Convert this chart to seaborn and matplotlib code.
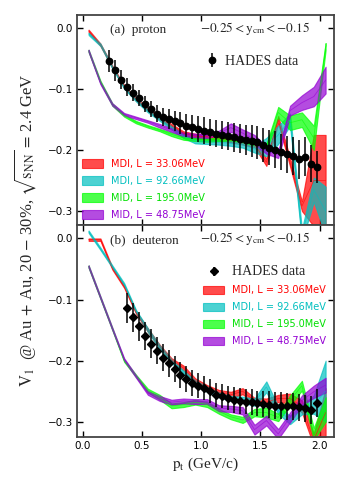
import numpy as np
import pandas as pd
import seaborn as sns
import matplotlib
matplotlib.use("Agg")
import matplotlib.pyplot as plt

# ---------------- data ----------------
model_pt = [0.05, 0.15, 0.25, 0.35, 0.45, 0.55, 0.65, 0.75, 0.85, 0.95, 1.05,
            1.15, 1.25, 1.35, 1.45, 1.55, 1.65, 1.75, 1.85, 1.95, 2.05]

model_labels = ["MDI, L = 33.06MeV", "MDI, L = 92.66MeV",
                "MID, L = 195.0MeV", "MID, L = 48.75MeV"]
model_colors = ["#ff0000", "#00bfbf", "#00ff00", "#9400d3"]
text_colors = ["#ff0000", "#00bfbf", "#00e000", "#9400d3"]

# proton bands (center, half width)
p_red_c = [-0.004, -0.027, -0.063, -0.095, -0.117, -0.133, -0.147, -0.160, -0.172, -0.177, -0.178,
           -0.180, -0.183, -0.186, -0.190, -0.220, -0.150, -0.220, -0.292, -0.250, -0.250]
p_red_h = [0.002, 0.002, 0.002, 0.002, 0.002, 0.003, 0.003, 0.003, 0.003, 0.004, 0.004,
           0.004, 0.004, 0.005, 0.005, 0.006, 0.006, 0.007, 0.008, 0.075, 0.075]
p_cyan_c = [-0.009, -0.027, -0.064, -0.097, -0.118, -0.135, -0.149, -0.163, -0.177, -0.185, -0.186,
            -0.187, -0.189, -0.191, -0.198, -0.195, -0.175, -0.150, -0.340, -0.265, -0.300]
p_cyan_h = [0.002, 0.002, 0.002, 0.002, 0.002, 0.003, 0.003, 0.003, 0.003, 0.004, 0.004,
            0.004, 0.004, 0.005, 0.006, 0.015, 0.015, 0.010, 0.010, 0.020, 0.040]
p_green_c = [-0.037, -0.088, -0.125, -0.143, -0.154, -0.161, -0.167, -0.174, -0.180, -0.182, -0.183,
             -0.182, -0.181, -0.183, -0.188, -0.195, -0.138, -0.155, -0.150, -0.180, -0.030]
p_green_h = [0.002, 0.002, 0.002, 0.002, 0.002, 0.002, 0.002, 0.003, 0.003, 0.003, 0.003,
             0.003, 0.003, 0.004, 0.004, 0.005, 0.009, 0.012, 0.012, 0.020, 0.006]
p_purple_c = [-0.037, -0.090, -0.125, -0.141, -0.147, -0.153, -0.160, -0.167, -0.174, -0.176, -0.176,
              -0.172, -0.163, -0.172, -0.183, -0.200, -0.207, -0.135, -0.122, -0.112, -0.085]
p_purple_h = [0.002, 0.002, 0.002, 0.002, 0.002, 0.002, 0.003, 0.003, 0.003, 0.003, 0.004,
              0.004, 0.007, 0.006, 0.008, 0.006, 0.006, 0.008, 0.012, 0.016, 0.022]

# deuteron bands (center, half width)
d_red_c = [-0.002, -0.002, -0.049, -0.079, -0.121, -0.150, -0.177, -0.199, -0.212, -0.233, -0.244,
           -0.252, -0.256, -0.250, -0.266, -0.268, -0.262, -0.262, -0.275, -0.330, -0.285]
d_red_h = [0.002, 0.002, 0.002, 0.002, 0.002, 0.003, 0.003, 0.003, 0.004, 0.004, 0.004,
           0.004, 0.005, 0.005, 0.005, 0.006, 0.006, 0.008, 0.010, 0.010, 0.040]
d_cyan_c = [0.011, -0.017, -0.046, -0.075, -0.119, -0.150, -0.178, -0.201, -0.219, -0.236, -0.247,
            -0.256, -0.262, -0.264, -0.268, -0.243, -0.281, -0.297, -0.280, -0.272, -0.250]
d_cyan_h = [0.002, 0.002, 0.002, 0.002, 0.002, 0.003, 0.003, 0.003, 0.003, 0.004, 0.004,
            0.004, 0.004, 0.005, 0.006, 0.009, 0.006, 0.007, 0.008, 0.015, 0.050]
d_green_c = [-0.046, -0.097, -0.148, -0.200, -0.225, -0.249, -0.260, -0.274, -0.272, -0.268, -0.272,
             -0.283, -0.292, -0.297, -0.285, -0.285, -0.293, -0.265, -0.241, -0.320, -0.280]
d_green_h = [0.002, 0.002, 0.002, 0.002, 0.002, 0.003, 0.004, 0.004, 0.004, 0.004, 0.004,
             0.004, 0.004, 0.005, 0.006, 0.008, 0.006, 0.008, 0.008, 0.010, 0.020]
d_purple_c = [-0.046, -0.097, -0.148, -0.198, -0.226, -0.253, -0.262, -0.268, -0.266, -0.267, -0.267,
              -0.278, -0.279, -0.282, -0.313, -0.298, -0.320, -0.293, -0.265, -0.251, -0.240]
d_purple_h = [0.002, 0.002, 0.002, 0.002, 0.002, 0.003, 0.004, 0.004, 0.004, 0.004, 0.004,
              0.005, 0.005, 0.006, 0.008, 0.008, 0.008, 0.008, 0.008, 0.010, 0.012]

# HADES data
p_pt = [0.225, 0.275, 0.325, 0.375, 0.425, 0.475, 0.525, 0.575, 0.625, 0.675, 0.725, 0.775,
        0.825, 0.875, 0.925, 0.975, 1.025, 1.075, 1.125, 1.175, 1.225, 1.275, 1.325, 1.375,
        1.425, 1.475, 1.525, 1.575, 1.625, 1.675, 1.725, 1.775, 1.825, 1.875, 1.925, 1.975]
p_v1 = [-0.054, -0.069, -0.084, -0.096, -0.106, -0.115, -0.124, -0.132, -0.140, -0.145, -0.149, -0.152,
        -0.156, -0.160, -0.162, -0.165, -0.168, -0.171, -0.173, -0.175, -0.177, -0.179, -0.181, -0.183,
        -0.185, -0.187, -0.192, -0.196, -0.199, -0.203, -0.207, -0.210, -0.215, -0.211, -0.222, -0.228]
p_err = [0.018, 0.017, 0.016, 0.015, 0.014, 0.013, 0.013, 0.013, 0.014, 0.015, 0.016, 0.017,
         0.018, 0.019, 0.020, 0.021, 0.022, 0.022, 0.022, 0.023, 0.023, 0.024, 0.024, 0.025,
         0.026, 0.027, 0.028, 0.029, 0.030, 0.030, 0.031, 0.031, 0.032, 0.032, 0.030, 0.026]

d_pt = [0.375, 0.425, 0.475, 0.525, 0.575, 0.625, 0.675, 0.725, 0.775, 0.825, 0.875, 0.925,
        0.975, 1.025, 1.075, 1.125, 1.175, 1.225, 1.275, 1.325, 1.375, 1.425, 1.475, 1.525,
        1.575, 1.625, 1.675, 1.725, 1.775, 1.825, 1.875, 1.925, 1.975]
d_v1 = [-0.114, -0.129, -0.144, -0.159, -0.172, -0.184, -0.195, -0.204, -0.214, -0.223, -0.230, -0.237,
        -0.241, -0.245, -0.250, -0.256, -0.258, -0.261, -0.264, -0.266, -0.267, -0.268, -0.270, -0.271,
        -0.272, -0.274, -0.274, -0.275, -0.275, -0.276, -0.278, -0.281, -0.270]
d_err = [0.025, 0.024, 0.024, 0.023, 0.023, 0.022, 0.022, 0.022, 0.021, 0.021, 0.021, 0.021,
         0.020, 0.020, 0.020, 0.020, 0.020, 0.020, 0.021, 0.021, 0.021, 0.021, 0.021, 0.021,
         0.022, 0.022, 0.022, 0.022, 0.022, 0.022, 0.022, 0.023, 0.023]

x_ticks = [0.0, 0.5, 1.0, 1.5, 2.0]
y_ticks = [0.0, -0.1, -0.2, -0.3]

# ---------------- style ----------------
sns.set_theme(style="ticks")
plt.rcParams["font.family"] = ["DejaVu Sans"]
plt.rcParams["mathtext.fontset"] = "stix"
SERIF = ["Liberation Serif", "DejaVu Serif"]
FRAME = "#444444"

fig = plt.figure(figsize=(3.5, 5.0), dpi=100)
ax1 = fig.add_axes([0.22, 0.55, 0.734, 0.42])
ax2 = fig.add_axes([0.22, 0.126, 0.734, 0.424], sharex=ax1)

def draw_bands(ax, centers, halves):
    handles = []
    for c, h, col, lab in zip(centers, halves, model_colors, model_labels):
        df = pd.DataFrame({"pt": model_pt, "c": c, "h": h})
        lo = df["c"] - df["h"]
        hi = df["c"] + df["h"]
        hdl = ax.fill_between(df["pt"], lo, hi, color=col, alpha=0.7, lw=0.8,
                              edgecolor=col, label=lab)
        sns.lineplot(data=df, x="pt", y="c", ax=ax, color=col, alpha=0.6, lw=0.6,
                     legend=False)
        handles.append(hdl)
    ax.set_xlabel("")
    ax.set_ylabel("")
    return handles

hp = draw_bands(ax1, [p_red_c, p_cyan_c, p_green_c, p_purple_c],
                [p_red_h, p_cyan_h, p_green_h, p_purple_h])
hd = draw_bands(ax2, [d_red_c, d_cyan_c, d_green_c, d_purple_c],
                [d_red_h, d_cyan_h, d_green_h, d_purple_h])

e1 = ax1.errorbar(p_pt, p_v1, yerr=p_err, fmt="o", color="black", ms=4.6,
                  elinewidth=1.1, capsize=0, zorder=10, label="HADES data")
e2 = ax2.errorbar(d_pt, d_v1, yerr=d_err, fmt="D", color="black", ms=3.6,
                  elinewidth=1.1, capsize=0, zorder=10, label="HADES data")

for ax in (ax1, ax2):
    ax.set_xlim(-0.048, 2.12)
    ax.set_xticks(x_ticks)
    ax.set_yticks(y_ticks)
    ax.set_yticklabels([f"{t:.1f}".replace("-", "\u2212") for t in y_ticks])
    ax.tick_params(direction="in", top=True, right=True, length=4, width=1,
                   labelsize=7.5, colors="black", pad=3)
    for s in ax.spines.values():
        s.set_color(FRAME)
        s.set_linewidth(1.3)
        s.set_visible(True)

ax1.set_ylim(-0.323, 0.022)
ax2.set_ylim(-0.325, 0.022)
ax2.set_xticklabels([f"{t:.1f}" for t in x_ticks])
plt.setp(ax1.get_xticklabels(), visible=False)

# legends
leg1 = ax1.legend(handles=hp, loc="lower left", bbox_to_anchor=(0.0, 0.0),
                  frameon=False, fontsize=7, handlelength=2.2, handleheight=1.0,
                  labelspacing=0.72, handletextpad=0.8, borderaxespad=0.1)
for t, c in zip(leg1.get_texts(), text_colors):
    t.set_color(c)
ax1.add_artist(leg1)
ax1.legend(handles=[e1], loc="upper left", bbox_to_anchor=(0.50, 0.81),
           frameon=False, prop={"family": SERIF, "size": 10},
           handlelength=1.0, handletextpad=0.4, borderpad=0, borderaxespad=0)

leg2 = ax2.legend(handles=[e2] + hd, loc="upper left", bbox_to_anchor=(0.49, 0.81),
                  frameon=False, fontsize=7, handlelength=2.2, handleheight=1.0,
                  labelspacing=0.72, handletextpad=0.8, borderpad=0, borderaxespad=0)
texts2 = leg2.get_texts()
texts2[0].set_fontfamily(SERIF)
texts2[0].set_fontsize(10)
for t, c in zip(texts2[1:], text_colors):
    t.set_color(c)

# annotations
for ax, lab in ((ax1, "(a)  proton"), (ax2, "(b)  deuteron")):
    ax.text(0.128, 0.93, lab, transform=ax.transAxes, family=SERIF, fontsize=9.5,
            va="center", ha="left")
    ax.text(0.48, 0.935, r"$-0.25 < \mathrm{y_{cm}} < -0.15$", transform=ax.transAxes,
            fontsize=9.5, va="center", ha="left")

ax2.set_xlabel(r"$\mathrm{p_t}$ (GeV/c)", family=SERIF, fontsize=11, labelpad=3)
fig.text(0.072, 0.54,
         r"$\mathrm{V_1}$  @ Au$\,+\,$Au, 20$\,-\,$30%, $\sqrt{\mathrm{s_{NN}}}\,=\,$2.4 GeV",
         rotation=90, family=SERIF, fontsize=12, va="center", ha="center")

fig.savefig("out.png", dpi=100)
